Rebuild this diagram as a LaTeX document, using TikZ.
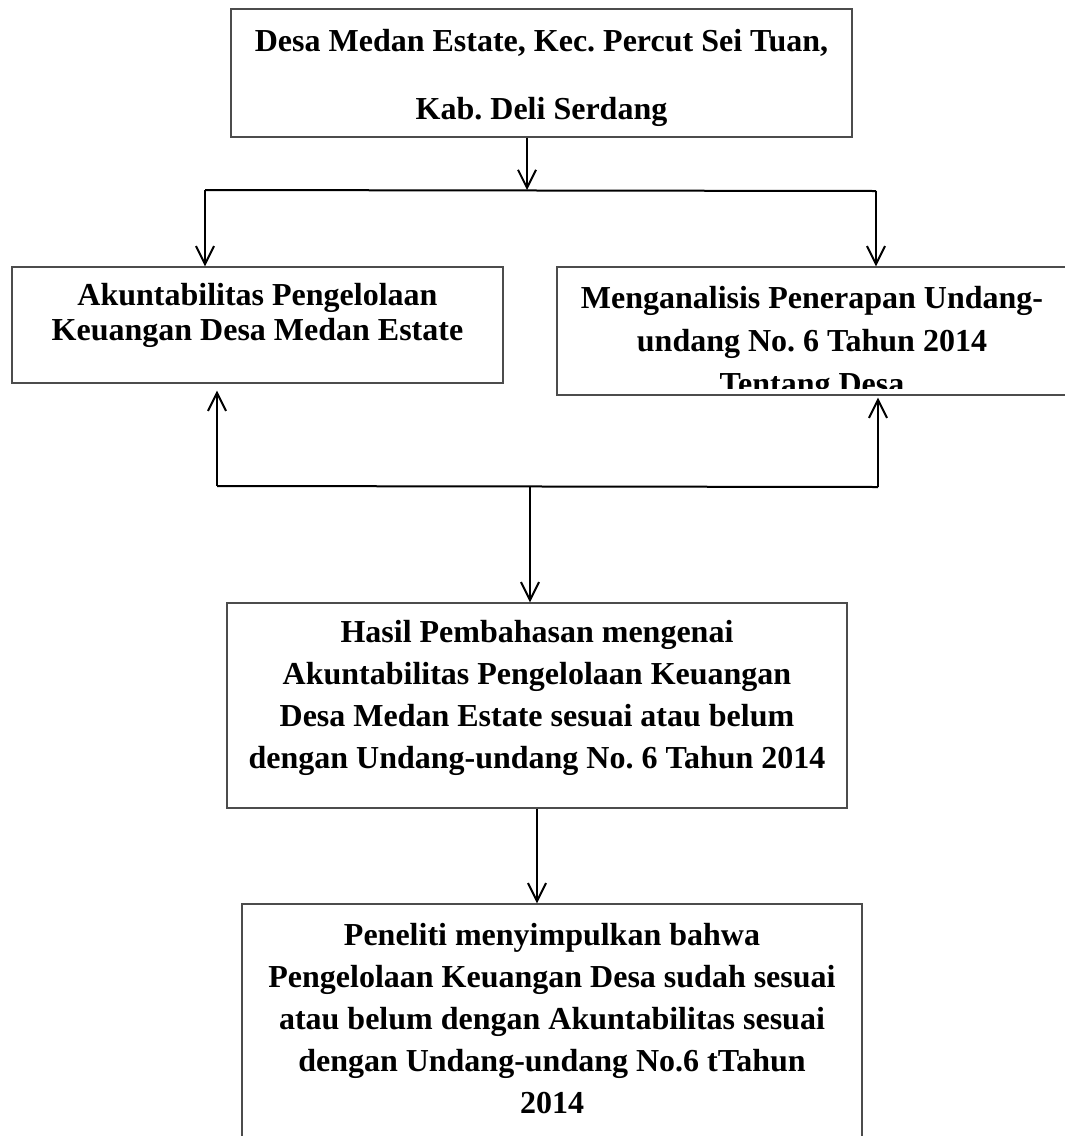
\documentclass[tikz,border=0pt]{standalone}
\usepackage{fontspec}
\setmainfont{Liberation Serif}
\usetikzlibrary{arrows.meta}
\frenchspacing

\begin{document}
\begin{tikzpicture}[x=0.5pt,y=-0.5pt,
  kotak/.style={draw=black!70,line width=0.7pt,align=center,inner sep=0pt,
    font=\bfseries\fontsize{16}{21}\selectfont},
  garis/.style={line width=1pt},
  panah/.style={line width=1pt,-{Straight Barb[length=9pt,width=9pt]}}]
\path[use as bounding box,clip] (0,0) rectangle (1065,1136);
\node[kotak,minimum width=310.5pt,minimum height=64pt] (desa) at (541.5,73)
  {\rule{0pt}{16.5pt}Desa Medan Estate, Kec. Percut Sei Tuan,\\[13pt]Kab. Deli Serdang};
\node[kotak,minimum width=245.5pt,minimum height=58pt] (akun) at (257.5,325)
  {Akuntabilitas Pengelolaan\\[-3.5pt]Keuangan Desa Medan Estate\rule[-13.3pt]{0pt}{13.3pt}};
\node[kotak,minimum width=255pt,minimum height=64pt] (analisis) at (812,331) {};
\begin{scope}
\clip (540,250) rectangle (1065,388);
\node[kotak,draw=none,anchor=north] (uu) at (812,285.4)
  {Menganalisis Penerapan Undang-\\[0.5pt]undang No. 6 Tahun 2014\\[0.5pt]Tentang Desa};
\end{scope}
\node[kotak,minimum width=310pt,minimum height=102.5pt] (hasil) at (537,705.5)
  {Hasil Pembahasan mengenai\\Akuntabilitas Pengelolaan Keuangan\\Desa Medan Estate sesuai atau belum\\dengan Undang-undang No. 6 Tahun 2014\rule[-10.8pt]{0pt}{10.8pt}};
\node[kotak,minimum width=310pt,minimum height=123pt] (simpul) at (552,1027)
  {Peneliti menyimpulkan bahwa\\Pengelolaan Keuangan Desa sudah sesuai\\atau belum dengan Akuntabilitas sesuai\\dengan Undang-undang No.6 tTahun\\2014\rule[-8.8pt]{0pt}{8.8pt}};

\coordinate (cabang) at (527,190);
\coordinate (kiri) at (205,190);
\coordinate (kanan) at (876,191);
\draw[garis] (kiri) -- (kanan);
\draw[panah] (desa.south -| cabang) -- (cabang);
\draw[panah] (kiri) -- (kiri |- akun.north);
\draw[panah] (kanan) -- (kanan |- analisis.north);

\coordinate (gabung) at (530,486);
\coordinate (bkiri) at (217,486);
\coordinate (bkanan) at (878,487);
\draw[garis] (bkiri) -- (bkanan);
\draw[panah,shorten >=3.5pt] (bkiri) -- (bkiri |- akun.south);
\draw[panah,shorten >=1pt] (bkanan) -- (bkanan |- analisis.south);
\draw[panah] (gabung) -- (gabung |- hasil.north);
\draw[panah] (hasil.south) -- (hasil.south |- simpul.north);
\end{tikzpicture}
\end{document}
